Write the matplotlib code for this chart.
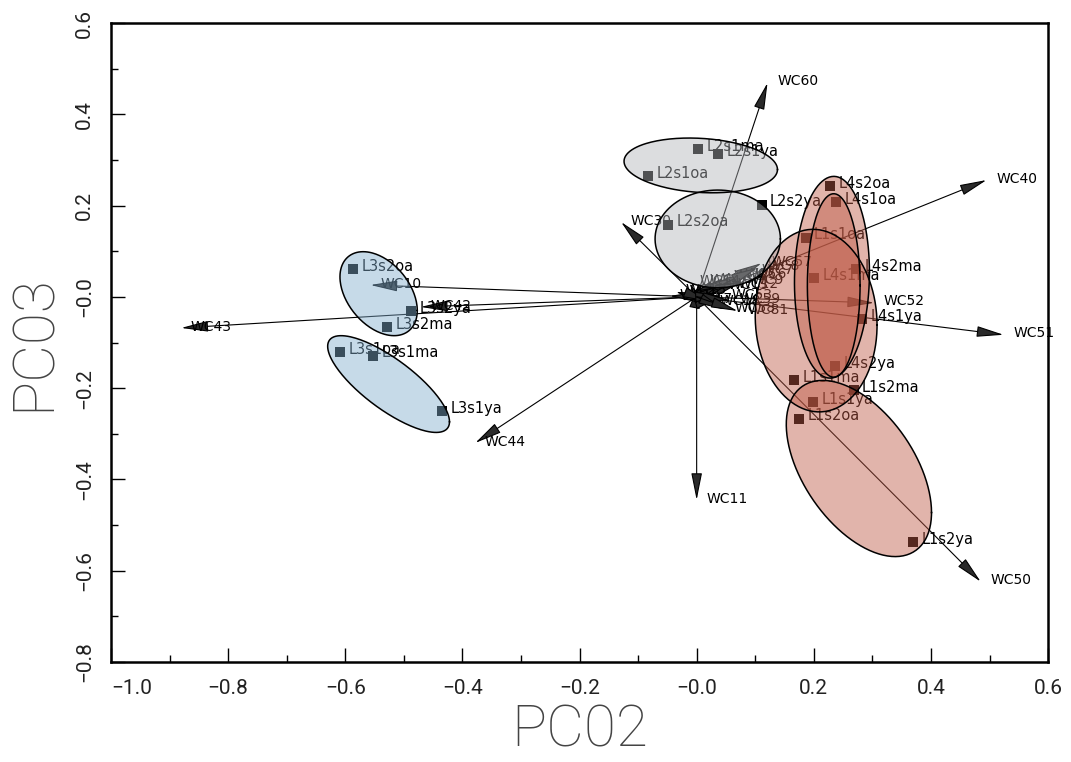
import numpy as np
import matplotlib.pyplot as plt
from matplotlib.ticker import MultipleLocator, FixedLocator, FixedFormatter

# --- sites (PC02, PC03) ---
site_names = ["L1s1oa", "L1s1ma", "L1s1ya", "L1s2oa", "L1s2ma", "L1s2ya",
              "L2s1ma", "L2s1ya", "L2s1oa", "L2s2oa", "L2s2ya",
              "L3s2oa", "L3s2ya", "L3s2ma", "L3s1oa", "L3s1ma", "L3s1ya",
              "L4s2oa", "L4s1oa", "L4s2ma", "L4s1ma", "L4s1ya", "L4s2ya"]
site_x = [0.186, 0.166, 0.199, 0.175, 0.268, 0.370,
          0.002, 0.037, -0.083, -0.049, 0.111,
          -0.586, -0.487, -0.529, -0.609, -0.552, -0.435,
          0.228, 0.238, 0.272, 0.201, 0.283, 0.236]
site_y = [0.130, -0.182, -0.230, -0.267, -0.205, -0.538,
          0.324, 0.313, 0.265, 0.158, 0.202,
          0.061, -0.031, -0.066, -0.121, -0.129, -0.251,
          0.242, 0.207, 0.061, 0.041, -0.048, -0.151]

# --- species arrows ---
arrow_names = ["WC60", "WC40", "WC30", "WC57", "WC10", "WC42", "WC43", "WC44",
               "WC11", "WC50", "WC51", "WC52",
               "WC2", "WC3", "WC4", "WC5", "WC6", "WC7", "WC8", "WC9", "WC12",
               "WC13", "WC14", "WC15", "WC16", "WC17", "WC18", "WC53", "WC59",
               "WC58", "WC81"]
arrow_x = [0.121, 0.495, -0.129, 0.111, -0.557, -0.471, -0.880, -0.378,
           0.000, 0.485, 0.524, 0.303,
           0.005, 0.026, 0.046, 0.065, 0.082, 0.094, 0.104, 0.077, 0.053,
           0.036, -0.012, -0.036, -0.046, -0.026, 0.022, 0.043, 0.056,
           0.048, 0.070]
arrow_y = [0.469, 0.256, 0.164, 0.074, 0.026, -0.022, -0.068, -0.320,
           -0.445, -0.624, -0.083, -0.013,
           0.033, 0.037, 0.042, 0.046, 0.048, 0.055, 0.064, 0.033, 0.026,
           0.022, 0.031, 0.011, 0.002, -0.007, -0.011, 0.002, -0.007,
           -0.028, -0.031]

# --- class ellipses: centre, x half-extent, y half-extent, correlation ---
ell_group = ["L1", "L1", "L2", "L2", "L3", "L3", "L4", "L4"]
ell_cx = [0.204, 0.277, 0.007, 0.036, -0.543, -0.526, 0.231, 0.234]
ell_cy = [-0.052, -0.376, 0.288, 0.127, 0.007, -0.191, 0.043, 0.025]
ell_sx = [0.104, 0.124, 0.131, 0.107, 0.066, 0.104, 0.064, 0.045]
ell_sy = [0.200, 0.193, 0.060, 0.107, 0.092, 0.106, 0.221, 0.201]
ell_rho = [-0.05, -0.5, -0.15, 0.0, -0.4, -0.78, 0.05, 0.0]

group_fill = {"L1": "#be5a46", "L2": "#b2b4b9", "L3": "#82aece", "L4": "#be5a46"}

xtick_vals = [-1.0, -0.8, -0.6, -0.4, -0.2, 0.0, 0.2, 0.4, 0.6]
xtick_labels = ["\u22121.0", "\u22120.8", "\u22120.6", "\u22120.4", "\u22120.2",
                "\u22120.0", "0.2", "0.4", "0.6"]
ytick_vals = [-0.8, -0.6, -0.4, -0.2, 0.0, 0.2, 0.4, 0.6]
ytick_labels = ["\u22120.8", "\u22120.6", "\u22120.4", "\u22120.2", "\u22120.0",
                "0.2", "0.4", "0.6"]

THIN_FONT = ["Roboto", "DejaVu Sans"]

fig = plt.figure(figsize=(10.71, 7.62), dpi=100)
ax = fig.add_axes([0.1036, 0.1312, 0.875, 0.8386])
ax.set_xlim(-1.0, 0.6)
ax.set_ylim(-0.8, 0.6)

# arrows from origin
for name, x, y in zip(arrow_names, arrow_x, arrow_y):
    ax.annotate("", xy=(x, y), xytext=(0, 0),
                arrowprops=dict(arrowstyle="-|>,head_length=1.4,head_width=0.28",
                                lw=0.8, color="black", fc="#2a2a2a",
                                shrinkA=0, shrinkB=0, mutation_scale=12),
                zorder=2)
    ax.annotate(name, xy=(x, y), xytext=(7, 1), textcoords="offset points",
                fontsize=10, ha="left", va="center", color="black", zorder=2)

# sites
ax.scatter(site_x, site_y, marker="s", s=50, color="black", zorder=3,
           linewidths=0)
for name, x, y in zip(site_names, site_x, site_y):
    ax.annotate(name, xy=(x, y), xytext=(6, 2), textcoords="offset points",
                fontsize=10.5, ha="left", va="center", color="black", zorder=3)

# ellipses overlaid on top (semi-transparent)
t = np.linspace(0, 2 * np.pi, 200)
for g, cx, cy, sx, sy, r in zip(ell_group, ell_cx, ell_cy, ell_sx, ell_sy, ell_rho):
    ex = cx + sx * np.cos(t)
    ey = cy + sy * (r * np.cos(t) + np.sqrt(1 - r ** 2) * np.sin(t))
    ax.fill(ex, ey, facecolor=group_fill[g], alpha=0.45, edgecolor="none", zorder=4)
    ax.plot(ex, ey, color="black", lw=1.1, zorder=5)

# axes styling
for sp in ax.spines.values():
    sp.set_linewidth(1.8)
ax.xaxis.set_major_locator(FixedLocator(xtick_vals))
ax.xaxis.set_major_formatter(FixedFormatter(xtick_labels))
ax.yaxis.set_major_locator(FixedLocator(ytick_vals))
ax.yaxis.set_major_formatter(FixedFormatter(ytick_labels))
ax.xaxis.set_minor_locator(MultipleLocator(0.1))
ax.yaxis.set_minor_locator(MultipleLocator(0.1))
ax.tick_params(which="major", direction="in", length=10, width=1, pad=12,
               labelsize=15, labelcolor="#222222")
ax.tick_params(which="minor", direction="in", length=5, width=1)
for lab in ax.get_xticklabels() + ax.get_yticklabels():
    lab.set_family(THIN_FONT)
    lab.set_fontweight("normal")
for lab in ax.get_yticklabels():
    lab.set_rotation(90)
    lab.set_va("center")
ax.get_xticklabels()[0].set_ha("left")

ax.set_xlabel("PC02", fontsize=42, family=THIN_FONT, fontweight="light",
              color="#444444", labelpad=4)
ax.set_ylabel("PC03", fontsize=42, family=THIN_FONT, fontweight="light",
              color="#444444", labelpad=10)

fig.savefig("out.png", dpi=100, facecolor="white")
